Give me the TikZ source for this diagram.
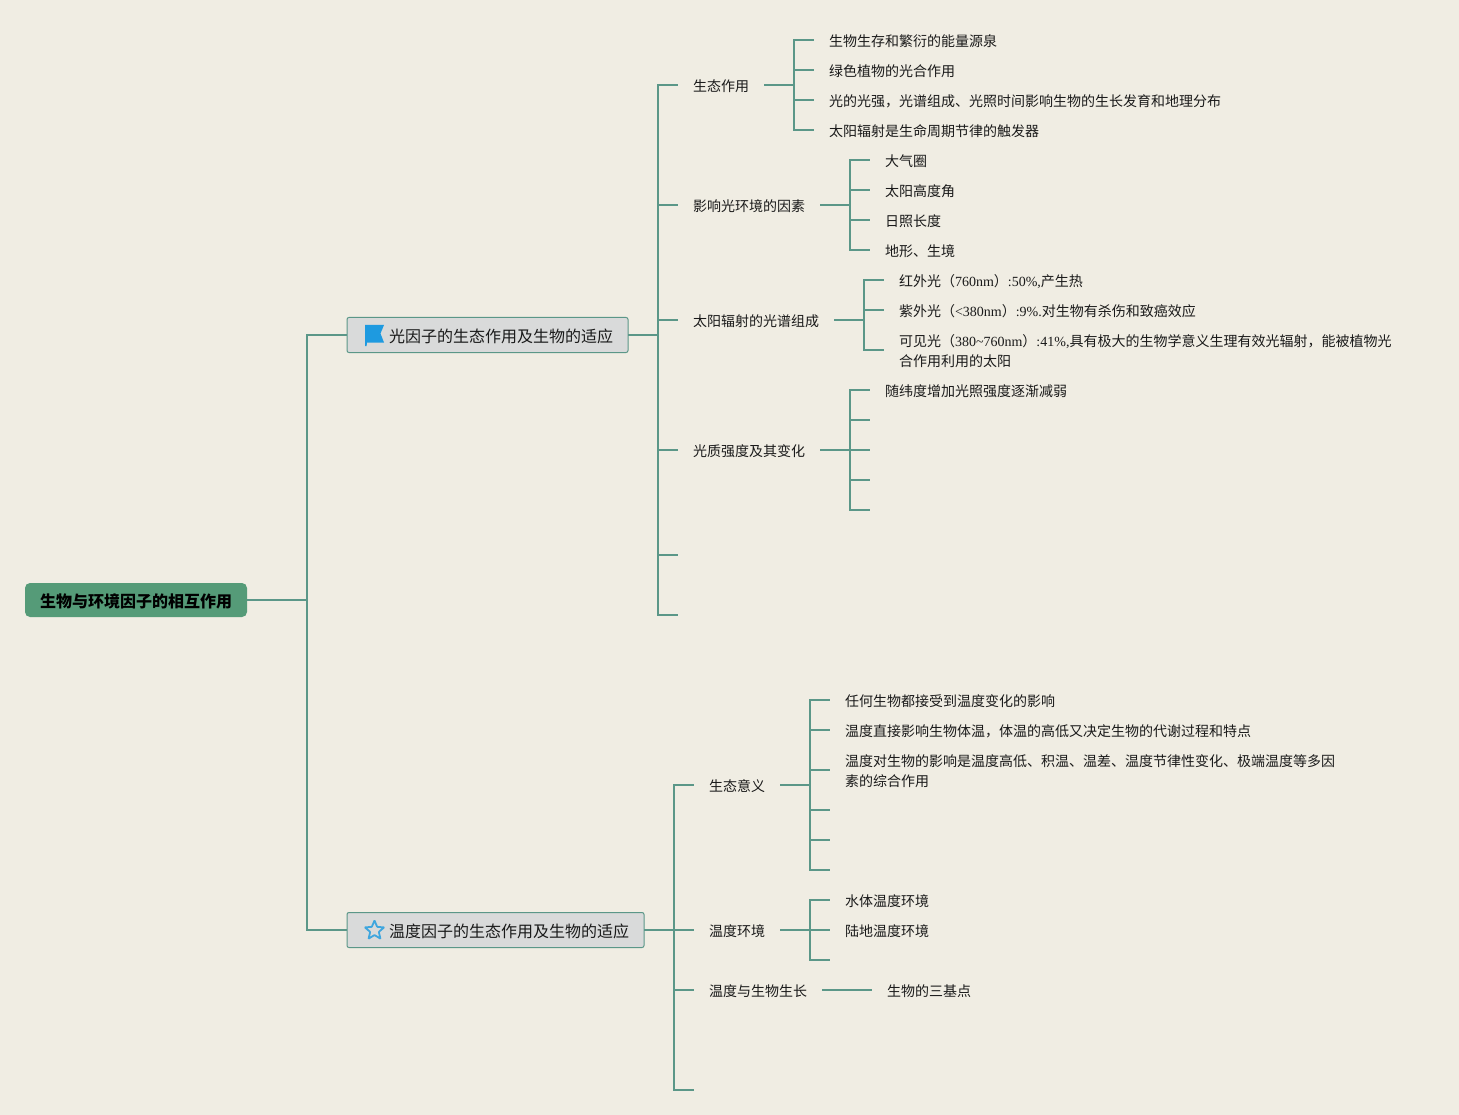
\documentclass[tikz,border=0pt]{standalone}
\usepackage{fontspec}
\setmainfont{Liberation Serif}
\newfontfamily\cjk{Noto Sans CJK SC}
\usetikzlibrary{shapes.geometric}
\definecolor{bgc}{HTML}{F0EDE3}
\definecolor{linkc}{HTML}{5B9788}
\definecolor{rootc}{HTML}{559B78}
\definecolor{boxc}{HTML}{D9DADA}
\definecolor{iconc}{HTML}{1E9AE0}
\definecolor{starc}{HTML}{3FA6DE}
\definecolor{txtc}{HTML}{1A1A1A}
\tikzset{
  link/.style={draw=linkc,line width=1.8pt,rounded corners=0pt},
  leaf/.style={anchor=west,inner xsep=15pt,inner ysep=0pt,outer sep=0pt,text=txtc,align=left,
    font=\fontsize{14}{20}\selectfont\cjk,text height=15.3pt,text depth=1.7pt},
  multi/.style={anchor=west,inner xsep=15pt,inner ysep=0pt,outer sep=0pt,text=txtc,align=left,
    font=\fontsize{14}{20}\selectfont\cjk},
  topicbox/.style={anchor=west,inner xsep=15pt,inner ysep=0pt,outer sep=0pt,minimum height=35pt,
    fill=boxc,draw=linkc,line width=1pt,rounded corners=2pt,text=txtc,
    font=\fontsize{16}{20}\selectfont\cjk,text height=17.5pt,text depth=1.9pt},
  rootbox/.style={anchor=west,inner xsep=15pt,inner ysep=0pt,outer sep=0pt,minimum height=34pt,
    fill=rootc,rounded corners=5pt,text=black,
    font=\fontsize{16}{20}\selectfont\cjk\bfseries,text height=17.5pt,text depth=1.9pt},
}
\newcommand{\firstline}{\rule{0pt}{14pt}}
\begin{document}
\begin{tikzpicture}[x=1pt,y=-1pt]
\fill[bgc] (0,0) rectangle (1459,1115);
\useasboundingbox (0,0) rectangle (1459,1115);

% root and topics
\node[rootbox] (root) at (25,600) {生物与环境因子的相互作用};
\node[topicbox] (t1) at (347,335) {\hspace*{27pt}光因子的生态作用及生物的适应};
\node[topicbox] (t2) at (347,930) {\hspace*{27pt}温度因子的生态作用及生物的适应};

% icons
\fill[iconc] (365,325) -- (384,325) -- (380.5,333.5) -- (384,342.5) -- (367,342.5) -- (366.6,346) -- (365,346) -- cycle;
\node[star,star points=5,star point ratio=2.2,draw=starc,line width=1.8pt,rounded corners=0.5pt,
  minimum size=20pt,inner sep=0pt] (staricon) at (374.5,930.5) {};

% branch 1
\node[leaf] (a) at (678,85) {生态作用};
\node[leaf] (b) at (678,205) {影响光环境的因素};
\node[leaf] (c) at (678,320) {太阳辐射的光谱组成};
\node[leaf] (d) at (678,450) {光质强度及其变化};
\coordinate (e) at (678,555);
\coordinate (f) at (678,615);

\node[leaf] (a1) at (814,40) {生物生存和繁衍的能量源泉};
\node[leaf] (a2) at (814,70) {绿色植物的光合作用};
\node[leaf] (a3) at (814,100) {光的光强，光谱组成、光照时间影响生物的生长发育和地理分布};
\node[leaf] (a4) at (814,130) {太阳辐射是生命周期节律的触发器};

\node[leaf] (b1) at (870,160) {大气圈};
\node[leaf] (b2) at (870,190) {太阳高度角};
\node[leaf] (b3) at (870,220) {日照长度};
\node[leaf] (b4) at (870,250) {地形、生境};

\node[leaf] (c1) at (884,280) {红外光（{\rmfamily 760nm}）{\rmfamily :50\%,}产生热};
\node[leaf] (c2) at (884,310) {紫外光（{\rmfamily <380nm}）{\rmfamily :9\%.}对生物有杀伤和致癌效应};
\node[multi] (c3) at (884,350) {\firstline 可见光（{\rmfamily 380\textasciitilde 760nm}）{\rmfamily :41\%,}具有极大的生物学意义生理有效光辐射，能被植物光\\合作用利用的太阳};

\node[leaf] (d1) at (870,390) {随纬度增加光照强度逐渐减弱};
\coordinate (d2) at (870,420);
\coordinate (d3) at (870,450);
\coordinate (d4) at (870,480);
\coordinate (d5) at (870,510);

% branch 2
\node[leaf] (g) at (694,785) {生态意义};
\node[leaf] (h) at (694,930) {温度环境};
\node[leaf] (i) at (694,990) {温度与生物生长};
\coordinate (j) at (694,1090);

\node[leaf] (g1) at (830,700) {任何生物都接受到温度变化的影响};
\node[leaf] (g2) at (830,730) {温度直接影响生物体温，体温的高低又决定生物的代谢过程和特点};
\node[multi] (g3) at (830,770) {\firstline 温度对生物的影响是温度高低、积温、温差、温度节律性变化、极端温度等多因\\素的综合作用};
\coordinate (g4) at (830,810);
\coordinate (g5) at (830,840);
\coordinate (g6) at (830,870);

\node[leaf] (h1) at (830,900) {水体温度环境};
\node[leaf] (h2) at (830,930) {陆地温度环境};
\coordinate (h3) at (830,960);

\node[leaf] (i1) at (872,990) {生物的三基点};

% connectors
\foreach \c in {t1.west,t2.west} \draw[link] (root.east) -- ++(60,0) |- (\c);
\foreach \c in {a.west,b.west,c.west,d.west,e,f} \draw[link] (t1.east) -- ++(30,0) |- (\c);
\foreach \c in {g.west,h.west,i.west,j} \draw[link] (t2.east) -- ++(30,0) |- (\c);
\foreach \c in {a1.west,a2.west,a3.west,a4.west} \draw[link] (a.east) -- ++(30,0) |- (\c);
\foreach \c in {b1.west,b2.west,b3.west,b4.west} \draw[link] (b.east) -- ++(30,0) |- (\c);
\foreach \c in {c1.west,c2.west,c3.west} \draw[link] (c.east) -- ++(30,0) |- (\c);
\foreach \c in {d1.west,d2,d3,d4,d5} \draw[link] (d.east) -- ++(30,0) |- (\c);
\foreach \c in {g1.west,g2.west,g3.west,g4,g5,g6} \draw[link] (g.east) -- ++(30,0) |- (\c);
\foreach \c in {h1.west,h2.west,h3} \draw[link] (h.east) -- ++(30,0) |- (\c);
\draw[link] (i.east) -- (i1.west);
\end{tikzpicture}
\end{document}
